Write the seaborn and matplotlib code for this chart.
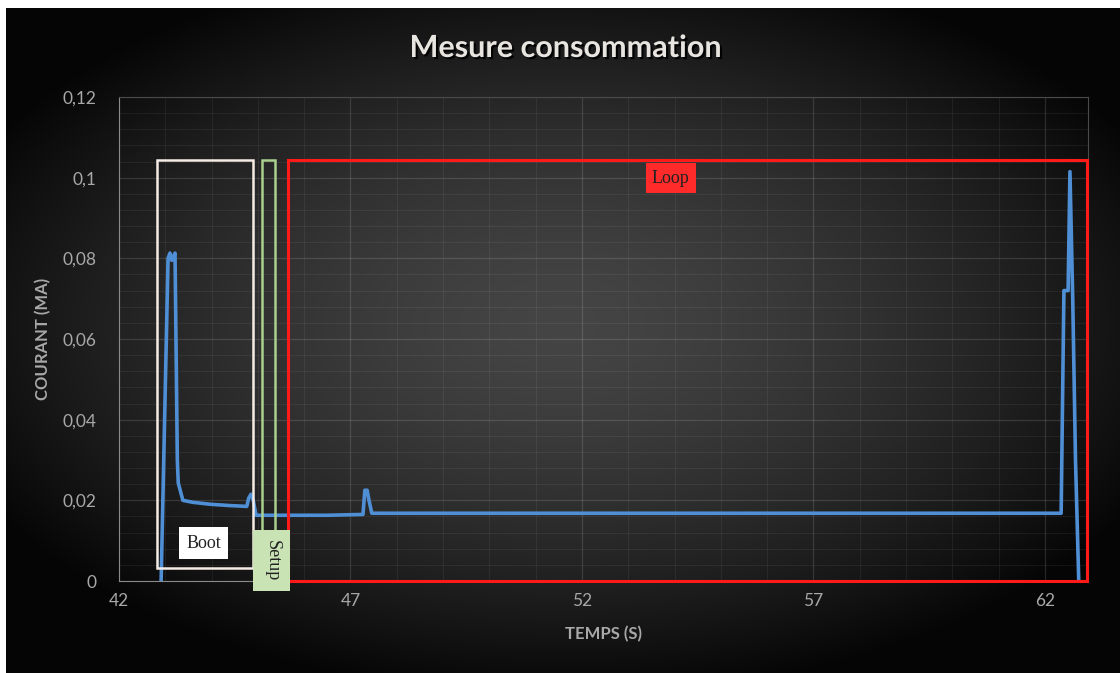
import numpy as np
import pandas as pd
import matplotlib
matplotlib.use("Agg")
import matplotlib.pyplot as plt
import matplotlib.patheffects as pe
from matplotlib.patches import Rectangle
from matplotlib.ticker import MultipleLocator, FuncFormatter
import seaborn as sns

sns.set_theme(style="dark")
plt.rcParams['font.family'] = ['Lato', 'DejaVu Sans']

# Relevé du courant
temps = [42.91, 43.06, 43.10, 43.14, 43.21, 43.26, 43.28, 43.31, 43.38,
         43.6, 44.0, 44.4, 44.76, 44.80, 44.85, 44.90, 44.96, 45.5,
         46.5, 47.27, 47.31, 47.36, 47.40, 47.46, 50.0, 55.0, 60.0,
         62.35, 62.41, 62.50, 62.54, 62.60, 62.66, 62.73]
courant = [0.0, 0.080, 0.0813, 0.0795, 0.0813, 0.030, 0.0243, 0.023, 0.0200,
           0.0195, 0.0190, 0.0187, 0.0185, 0.0205, 0.0215, 0.0200, 0.0163, 0.0163,
           0.0163, 0.0165, 0.0225, 0.0225, 0.0200, 0.0168, 0.0168, 0.0168, 0.0168,
           0.0168, 0.0720, 0.0720, 0.1015, 0.070, 0.030, 0.0]

# Zones (début, fin, bas, haut)
zones = {
    "Boot": (42.82, 44.89, 0.0032, 0.1043),
    "Setup": (45.09, 45.37, 0.0, 0.1043),
    "Loop": (45.65, 62.91, 0.0, 0.1043),
}

x_ticks = [42, 47, 52, 57, 62]
y_ticks = [0, 0.02, 0.04, 0.06, 0.08, 0.10, 0.12]

df = pd.DataFrame({"temps": temps, "courant": courant})

W, H = 1120, 673
fig = plt.figure(figsize=(W / 100, H / 100), dpi=100, facecolor="white")

# fond en dégradé radial
bg = fig.add_axes([6 / W, 0, 1 - 6 / W, 1 - 8 / H])
yy, xx = np.mgrid[-1:1:300j, -1:1:500j]
r = np.sqrt(xx ** 2 + ((yy + 0.05) / 0.95) ** 2)
val = np.clip(0.27 * (1 - (r / 1.25) ** 1.5), 0.02, None)
bg.imshow(np.dstack([val, val, val]), aspect="auto", extent=[0, 1, 0, 1])
bg.set_axis_off()

ax = fig.add_axes([119 / W, 1 - 581 / H, (1088 - 119) / W, (581 - 97) / H])
ax.set_facecolor("none")

sns.lineplot(data=df, x="temps", y="courant", sort=False, estimator=None,
             color="#4f8fd6", linewidth=2.6, ax=ax, zorder=5)

ax.set_xlim(42, 62.93)
ax.set_ylim(0, 0.12)
ax.xaxis.set_major_locator(plt.FixedLocator(x_ticks))
ax.yaxis.set_major_locator(plt.FixedLocator(y_ticks))
ax.xaxis.set_minor_locator(MultipleLocator(1))
ax.yaxis.set_minor_locator(MultipleLocator(0.004))
ax.yaxis.set_major_formatter(FuncFormatter(lambda v, p: ("%g" % round(v, 2)).replace(".", ",")))
ax.grid(which="major", color="white", alpha=0.13, linewidth=0.9)
ax.grid(which="minor", color="white", alpha=0.06, linewidth=0.7)
ax.tick_params(axis="both", which="both", length=0, colors="#a8a8a8", labelsize=12.5)
ax.tick_params(axis="x", pad=9)
ax.tick_params(axis="y", pad=16)
for s in ax.spines.values():
    s.set_color("#4a4a4a")
    s.set_linewidth(0.8)
ax.spines["left"].set_color("#8a8a8a")
ax.spines["bottom"].set_color("#8a8a8a")

ax.set_xlabel("TEMPS (S)", color="#a8a8a8", fontsize=12, fontweight="bold", labelpad=12)
ax.set_ylabel("COURANT (MA)", color="#a8a8a8", fontsize=12, fontweight="bold", labelpad=8)

# zones
couleurs = {"Boot": "#f5ece6", "Setup": "#a9d08e", "Loop": "#ff1a1a"}
for nom, (x0, x1, y0, y1) in zones.items():
    ax.add_patch(Rectangle((x0, y0), x1 - x0, y1 - y0, fill=False,
                           edgecolor=couleurs[nom], linewidth=2.2 if nom == "Loop" else 1.8,
                           zorder=6, clip_on=False))

ax.text(43.83, 0.0094, "Boot", family="Liberation Serif", fontsize=13, color="#222222",
        ha="center", va="center", zorder=7,
        bbox=dict(boxstyle="square,pad=0.4", facecolor="white", edgecolor="none"))
ax.text(45.30, 0.0050, "Setup", family="Liberation Serif", fontsize=13, color="#222222",
        rotation=-90, ha="center", va="center", zorder=7, clip_on=False,
        bbox=dict(boxstyle="square,pad=0.55", facecolor="#c9e3b5", edgecolor="none"))
ax.text(53.92, 0.0999, "Loop", family="Liberation Serif", fontsize=13, color="#222222",
        ha="center", va="center", zorder=7,
        bbox=dict(boxstyle="square,pad=0.35", facecolor="#ff2a2a", edgecolor="none"))

fig.text(0.505, 1 - 48 / H, "Mesure consommation", color="#e8e4e0", fontsize=22,
         fontweight="bold", ha="center", va="center",
         path_effects=[pe.withSimplePatchShadow(offset=(1.5, -1.5), shadow_rgbFace="black", alpha=0.9)])

fig.savefig("out.png", dpi=100, facecolor=fig.get_facecolor())
